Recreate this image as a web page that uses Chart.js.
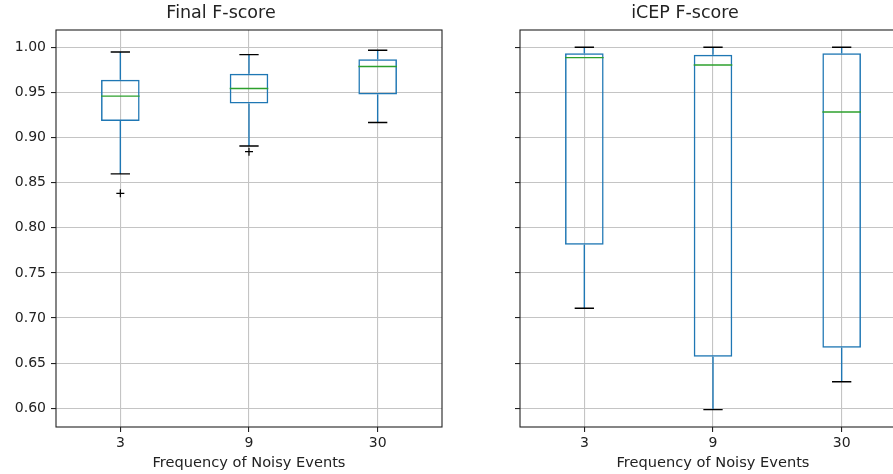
<!DOCTYPE html>
<html>
<head>
<meta charset="utf-8">
<script src="https://cdn.jsdelivr.net/npm/chart.js@4.4.1/dist/chart.umd.min.js"></script>
<style>
  html, body { margin: 0; padding: 0; background: #fff; overflow: hidden; }
  #wrap { position: relative; width: 893px; height: 474px; overflow: hidden; }
  canvas { position: absolute; top: 0; }
  #chartFinal { left: 0; }
  #chartIcep { left: 464px; }
</style>
</head>
<body>
<div id="wrap">
  <canvas id="chartFinal" width="450" height="474"></canvas>
  <canvas id="chartIcep" width="450" height="474"></canvas>
</div>
<script>
// Categorías del eje X
const categories = ['3', '9', '30'];

// Final F-score
const finalLowWhisker = [0.8597, 0.8906, 0.9167];
const finalQ1 = [0.9182, 0.9377, 0.9476];
const finalMedian = [0.9459, 0.9543, 0.9786];
const finalQ3 = [0.9639, 0.9705, 0.9867];
const finalHighWhisker = [0.9948, 0.9918, 0.9967];
const finalOutliers = [[0.8382], [0.8843], []];

// iCEP F-score
const icepLowWhisker = [0.7108, 0.5985, 0.6294];
const icepQ1 = [0.7812, 0.6570, 0.6670];
const icepMedian = [0.9885, 0.9804, 0.9282];
const icepQ3 = [0.9934, 0.9918, 0.9934];
const icepHighWhisker = [1.000, 1.000, 1.000];
const icepOutliers = [[], [], []];

// Marcas del eje Y
const yTicks = [0.60, 0.65, 0.70, 0.75, 0.80, 0.85, 0.90, 0.95, 1.00];
const yMin = 0.5793;
const yMax = 1.0191;

const FONT = "'DejaVu Sans', sans-serif";

// Plugin: bigotes, tapas, medianas y valores atípicos
const boxExtras = {
    id: 'boxExtras',
    afterDatasetsDraw(chart, args, opts) {
        const ctx = chart.ctx;
        const xs = chart.scales.x;
        const ys = chart.scales.y;
        const meta = chart.getDatasetMeta(0);
        ctx.save();
        meta.data.forEach((bar, i) => {
            const cx = xs.getPixelForValue(i);
            const w = bar.width;
            const capHalf = w / 4;

            // Bigotes
            ctx.strokeStyle = '#1f77b4';
            ctx.lineWidth = 1.4;
            ctx.beginPath();
            ctx.moveTo(cx, ys.getPixelForValue(opts.q3[i]));
            ctx.lineTo(cx, ys.getPixelForValue(opts.high[i]));
            ctx.moveTo(cx, ys.getPixelForValue(opts.q1[i]));
            ctx.lineTo(cx, ys.getPixelForValue(opts.low[i]));
            ctx.stroke();

            // Tapas
            ctx.strokeStyle = '#000';
            ctx.beginPath();
            [opts.high[i], opts.low[i]].forEach(v => {
                const y = ys.getPixelForValue(v);
                ctx.moveTo(cx - capHalf, y);
                ctx.lineTo(cx + capHalf, y);
            });
            ctx.stroke();

            // Mediana
            ctx.strokeStyle = '#2ca02c';
            ctx.beginPath();
            const ym = ys.getPixelForValue(opts.median[i]);
            ctx.moveTo(cx - w / 2, ym);
            ctx.lineTo(cx + w / 2, ym);
            ctx.stroke();

            // Atípicos
            ctx.strokeStyle = '#000';
            ctx.lineWidth = 1.2;
            opts.outliers[i].forEach(v => {
                const y = ys.getPixelForValue(v);
                ctx.beginPath();
                ctx.moveTo(cx - 4, y);
                ctx.lineTo(cx + 4, y);
                ctx.moveTo(cx, y - 4);
                ctx.lineTo(cx, y + 4);
                ctx.stroke();
            });
        });
        ctx.restore();
    }
};

// Plugin: marco alrededor del área del gráfico
const frame = {
    id: 'frame',
    afterDatasetsDraw(chart) {
        const a = chart.chartArea;
        const ctx = chart.ctx;
        ctx.save();
        ctx.strokeStyle = '#222';
        ctx.lineWidth = 1.1;
        ctx.strokeRect(a.left, a.top, a.right - a.left, a.bottom - a.top);
        ctx.restore();
    }
};

function renderBox(canvasId, title, q1, q3, median, low, high, outliers, showYLabels) {
    const ctx = document.getElementById(canvasId).getContext('2d');
    new Chart(ctx, {
        type: 'bar',
        data: {
            labels: categories,
            datasets: [{
                data: q1.map((v, i) => [v, q3[i]]),
                backgroundColor: 'rgba(0,0,0,0)',
                borderColor: '#1f77b4',
                borderWidth: 1.5,
                borderSkipped: false,
                categoryPercentage: 1,
                barPercentage: 0.3
            }]
        },
        options: {
            responsive: false,
            animation: false,
            devicePixelRatio: 1,
            layout: { padding: { left: 0, right: 8, top: 0, bottom: 0 } },
            scales: {
                x: {
                    offset: true,
                    grid: {
                        offset: false,
                        color: '#c4c4c4',
                        lineWidth: 1.1,
                        tickColor: '#222',
                        tickLength: 5
                    },
                    border: { display: false },
                    ticks: {
                        color: '#222',
                        padding: 3,
                        maxRotation: 0,
                        font: { family: FONT, size: 14 }
                    },
                    title: {
                        display: true,
                        text: 'Frequency of Noisy Events',
                        color: '#222',
                        padding: { top: 0, bottom: 2 },
                        font: { family: FONT, size: 14.6 }
                    },
                    afterFit(scale) { scale.height = 47; }
                },
                y: {
                    min: yMin,
                    max: yMax,
                    grid: {
                        color: '#c4c4c4',
                        lineWidth: 1.1,
                        tickColor: '#222',
                        tickLength: 5
                    },
                    border: { display: false },
                    ticks: {
                        display: showYLabels,
                        color: '#222',
                        padding: 5,
                        font: { family: FONT, size: 14 },
                        callback: v => v.toFixed(2)
                    },
                    afterBuildTicks(scale) {
                        scale.ticks = yTicks.map(v => ({ value: v }));
                    },
                    afterFit(scale) { scale.width = 56; }
                }
            },
            plugins: {
                legend: { display: false },
                tooltip: { enabled: false },
                title: {
                    display: true,
                    text: title,
                    color: '#222',
                    padding: { top: 3, bottom: 6 },
                    font: { family: FONT, size: 17.5, weight: 'normal' }
                },
                boxExtras: { q1, q3, median, low, high, outliers }
            }
        },
        plugins: [boxExtras, frame]
    });
}

renderBox('chartFinal', 'Final F-score', finalQ1, finalQ3, finalMedian,
    finalLowWhisker, finalHighWhisker, finalOutliers, true);
renderBox('chartIcep', 'iCEP F-score', icepQ1, icepQ3, icepMedian,
    icepLowWhisker, icepHighWhisker, icepOutliers, false);
</script>
</body>
</html>
